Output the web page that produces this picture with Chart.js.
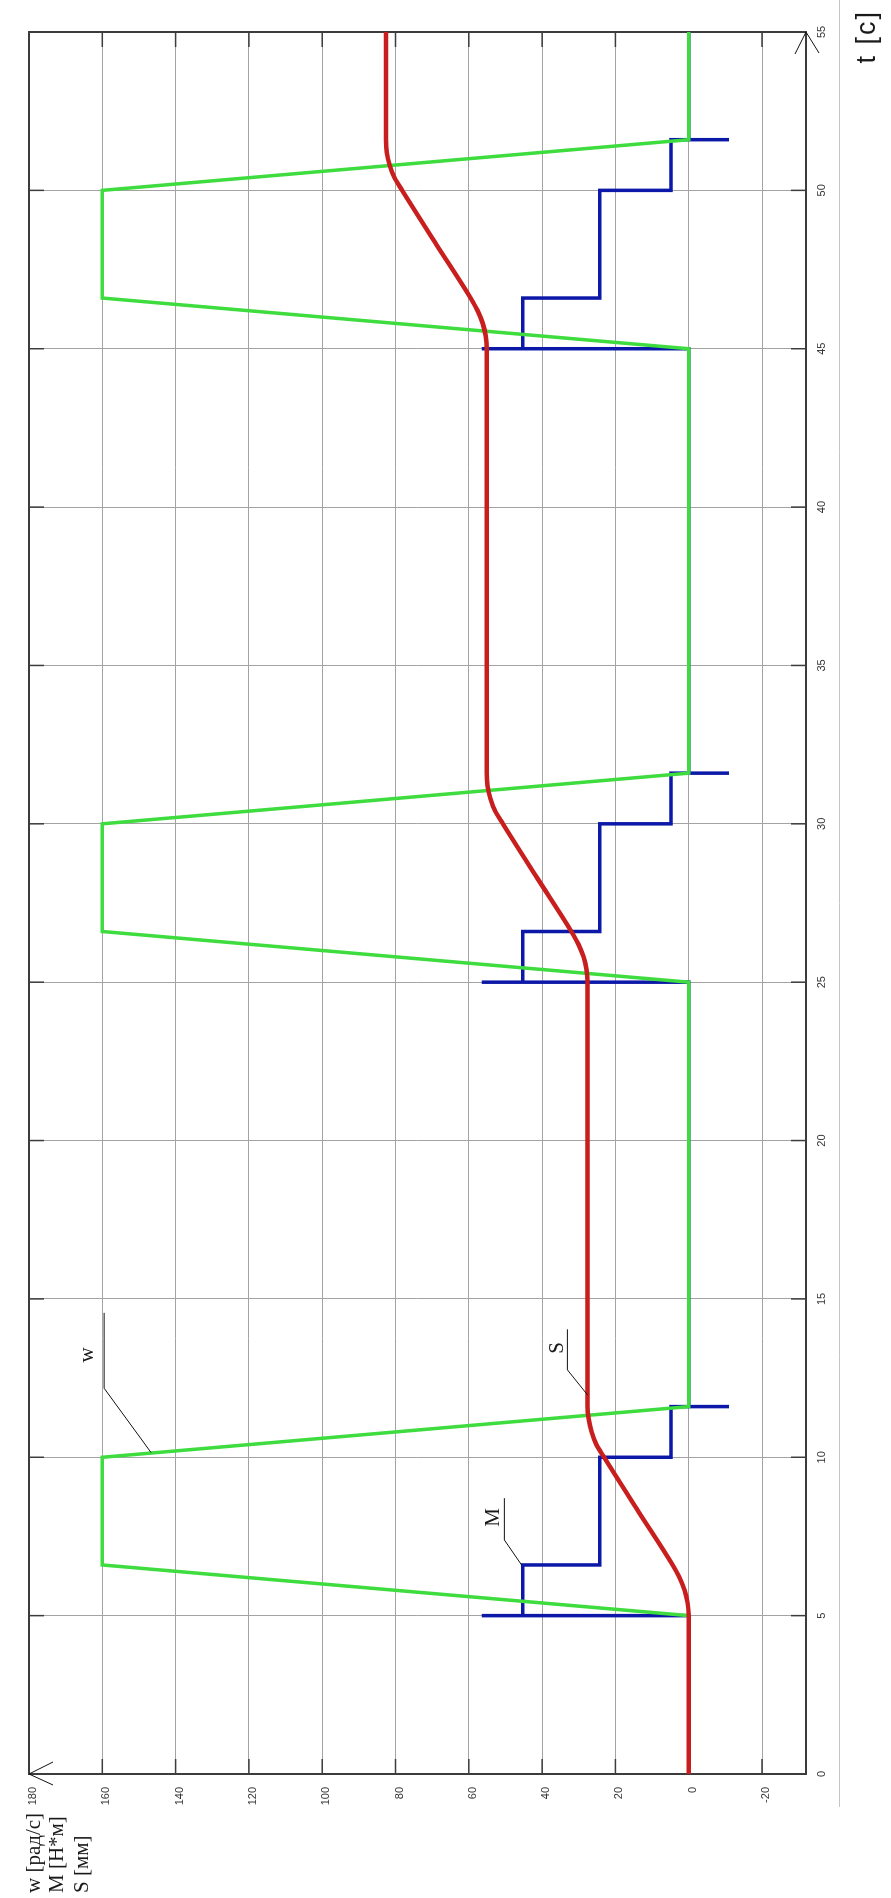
<!doctype html>
<html lang="ru">
  <head>
    <meta charset="UTF-8" />
    <title>w, M, S (t)</title>
    <script src="https://cdn.jsdelivr.net/npm/chart.js@4.4.0/dist/chart.umd.min.js"></script>
    <style>
      html, body { margin: 0; padding: 0; background: #fff; overflow: hidden; }
      #wrap { position: relative; width: 891px; height: 1898px; overflow: hidden; }
      /* chart is drawn lying down and turned a quarter turn, like the original */
      #c {
        position: absolute; left: 0; top: 0;
        width: 1898px; height: 891px;
        transform-origin: 0 0;
        transform: translate(0, 1898px) rotate(-90deg);
      }
    </style>
  </head>
  <body>
    <div id="wrap"><canvas id="c" width="1898" height="891"></canvas></div>
    <script>
// tick labels
const tTicks = [0, 5, 10, 15, 20, 25, 30, 35, 40, 45, 50, 55];
const vTicks = [-20, 0, 20, 40, 60, 80, 100, 120, 140, 160, 180];

// w [рад/с]
const wT = [0, 5, 6.6, 10, 11.6, 25, 26.6, 30, 31.6, 45, 46.6, 50, 51.6, 55];
const wV = [0, 0, 160, 160, 0, 0, 160, 160, 0, 0, 160, 160, 0, 0];

// M [Н*м]
const mT = [0, 5, 5, 5, 6.6, 6.6, 10, 10, 11.6, 11.6, 11.6,
            25, 25, 25, 26.6, 26.6, 30, 30, 31.6, 31.6, 31.6,
            45, 45, 45, 46.6, 46.6, 50, 50, 51.6, 51.6, 51.6, 55];
const mV = [0, 0, 56.5, 45.3, 45.3, 24.3, 24.3, 4.8, 4.8, -11, 0,
            0, 56.5, 45.3, 45.3, 24.3, 24.3, 4.8, 4.8, -11, 0,
            0, 56.5, 45.3, 45.3, 24.3, 24.3, 4.8, 4.8, -11, 0, 0];

// S [мм]
const sT = [0, 5, 5.4, 5.8, 6.2, 6.6, 8.3, 10, 10.4, 10.8, 11.2, 11.6,
            25, 25.4, 25.8, 26.2, 26.6, 28.3, 30, 30.4, 30.8, 31.2, 31.6,
            45, 45.4, 45.8, 46.2, 46.6, 48.3, 50, 50.4, 50.8, 51.2, 51.6, 55];
const sV = [0, 0, 0.3, 1.1, 2.5, 4.4, 13.8, 23.1, 25.2, 26.5, 27.3, 27.6,
            27.6, 27.9, 28.7, 30.1, 32.0, 41.4, 50.7, 52.8, 54.1, 54.9, 55.1,
            55.1, 55.4, 56.2, 57.6, 59.5, 68.9, 78.2, 80.3, 81.6, 82.4, 82.6, 82.6];

const pts = (xs, ys) => xs.map((x, i) => ({ x: x, y: ys[i] }));

// callouts, anchored in data units
const notes = [
  { text: 'w', tip: [10.15, 146.7], elbow: [12.18, 159.5], end: 14.56, at: [13.23, 162.5] },
  { text: 'M', tip: [6.6, 45.6], elbow: [7.39, 50.3], end: 8.71, at: [8.1, 51.7] },
  { text: 'S', tip: [11.97, 27.6], elbow: [12.76, 33.1], end: 14.04, at: [13.45, 34.4] }
];

function line(ctx, x1, y1, x2, y2) {
  ctx.beginPath();
  ctx.moveTo(x1, y1);
  ctx.lineTo(x2, y2);
  ctx.stroke();
}

const overlay = {
  id: 'overlay',
  beforeDatasetsDraw(chart) {
    const ctx = chart.ctx, a = chart.chartArea;
    const xs = chart.scales.x, ys = chart.scales.y;
    ctx.save();
    ctx.strokeStyle = '#3c3c3c';
    ctx.lineWidth = 1.5;
    // small inner ticks
    vTicks.forEach(v => {
      const y = ys.getPixelForValue(v);
      line(ctx, a.left, y, a.left + 15, y);
      line(ctx, a.right - 15, y, a.right, y);
    });
    tTicks.forEach(t => {
      const x = xs.getPixelForValue(t);
      line(ctx, x, a.top, x, a.top + 15);
      line(ctx, x, a.bottom - 15, x, a.bottom);
    });
    ctx.lineWidth = 2;
    ctx.strokeRect(a.left, a.top, a.right - a.left, a.bottom - a.top);
    ctx.restore();
  },
  afterDraw(chart) {
    const ctx = chart.ctx, a = chart.chartArea;
    const xs = chart.scales.x, ys = chart.scales.y;
    const px = t => xs.getPixelForValue(t);
    const py = v => ys.getPixelForValue(v);
    ctx.save();

    // axis arrows
    ctx.strokeStyle = '#111';
    ctx.lineWidth = 1;
    line(ctx, a.left, a.top, a.left + 12, a.top + 24);
    line(ctx, a.left, a.top, a.left - 11, a.top + 24);
    line(ctx, a.right, a.bottom, a.right - 22, a.bottom - 11);
    line(ctx, a.right, a.bottom, a.right - 21, a.bottom + 13);

    // outer frame edge
    ctx.strokeStyle = '#c4c4c4';
    line(ctx, 91, 839.5, chart.width, 839.5);

    // callouts
    ctx.strokeStyle = '#111';
    ctx.fillStyle = '#1a1a1a';
    ctx.font = '21px "Liberation Serif", "Times New Roman", serif';
    ctx.textAlign = 'center';
    ctx.textBaseline = 'alphabetic';
    notes.forEach(n => {
      ctx.beginPath();
      ctx.moveTo(px(n.tip[0]), py(n.tip[1]));
      ctx.lineTo(px(n.elbow[0]), py(n.elbow[1]));
      ctx.lineTo(px(n.end), py(n.elbow[1]));
      ctx.stroke();
      ctx.fillText(n.text, px(n.at[0]), py(n.at[1]));
    });

    // value axis names
    ctx.textAlign = 'left';
    ctx.fillText('w [рад/с]', 5, 40);
    ctx.fillText('M [Н*м]', 5, 63);
    ctx.fillText('S [мм]', 5, 88);

    // time axis name
    ctx.font = '27px "Liberation Sans", Arial, sans-serif';
    ctx.textAlign = 'right';
    ctx.letterSpacing = '2px';
    ctx.fillText('t [c]', 1888, 875);
    ctx.restore();
  }
};

new Chart(document.getElementById('c'), {
  type: 'line',
  data: {
    datasets: [
      {
        label: 'S',
        data: pts(sT, sV),
        borderColor: '#c81e1e',
        borderWidth: 4.5,
        pointRadius: 0,
        cubicInterpolationMode: 'monotone',
        order: 1
      },
      {
        label: 'w',
        data: pts(wT, wV),
        borderColor: '#3edc3e',
        borderWidth: 3.5,
        pointRadius: 0,
        tension: 0,
        order: 2
      },
      {
        label: 'M',
        data: pts(mT, mV),
        borderColor: '#0c18a8',
        borderWidth: 3.5,
        pointRadius: 0,
        tension: 0,
        order: 3
      }
    ]
  },
  options: {
    responsive: false,
    animation: false,
    devicePixelRatio: 1,
    layout: { padding: { top: 29, right: 32, left: 0, bottom: 0 } },
    plugins: {
      legend: { display: false },
      tooltip: { enabled: false }
    },
    scales: {
      x: {
        type: 'linear',
        min: 0,
        max: 55,
        afterBuildTicks: s => { s.ticks = tTicks.map(v => ({ value: v })); },
        afterFit: s => { s.height = 85; },
        grid: { color: '#a3a3a3', lineWidth: 1, drawTicks: false },
        border: { display: false },
        ticks: {
          autoSkip: false,
          maxRotation: 0,
          padding: 9,
          color: '#333',
          font: { family: '"Liberation Sans", Arial, sans-serif', size: 11 }
        }
      },
      y: {
        type: 'linear',
        min: -32,
        max: 180,
        afterBuildTicks: s => { s.ticks = vTicks.map(v => ({ value: v })); },
        afterFit: s => { s.width = 124; },
        grid: { color: '#a3a3a3', lineWidth: 1, drawTicks: false },
        border: { display: false },
        ticks: {
          padding: 13,
          labelOffset: 4,
          color: '#333',
          font: { family: '"Liberation Sans", Arial, sans-serif', size: 11 }
        }
      }
    }
  },
  plugins: [overlay]
});
    </script>
  </body>
</html>
